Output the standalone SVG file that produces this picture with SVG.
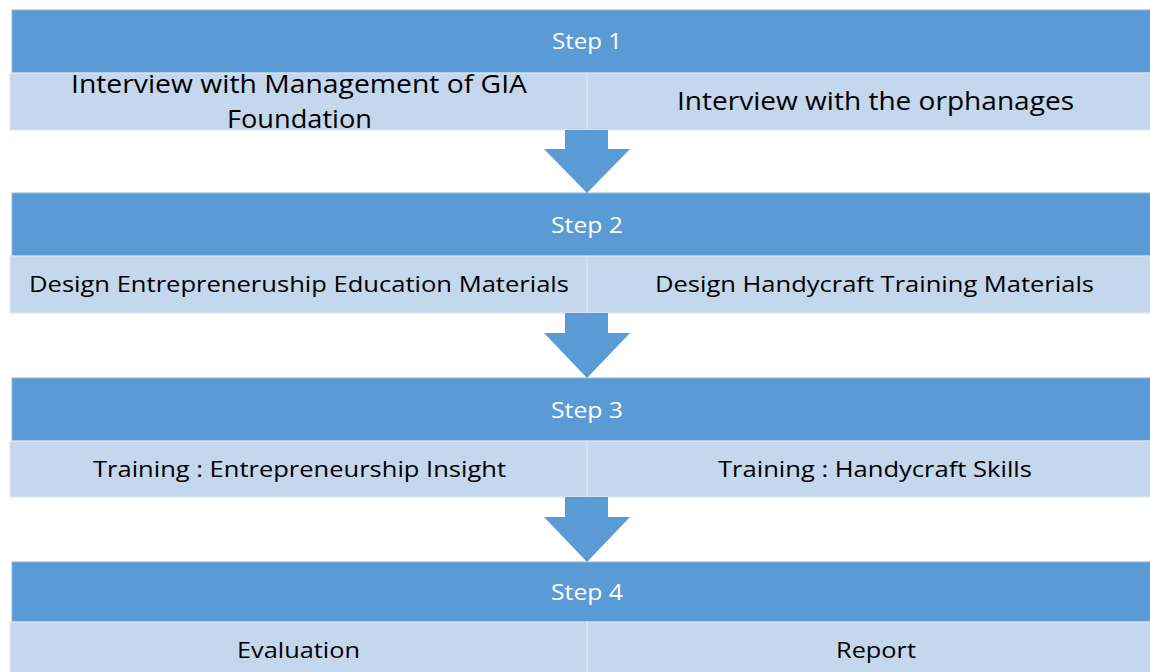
<svg xmlns="http://www.w3.org/2000/svg" width="1150" height="672" viewBox="0 0 1150 672">
<style>
.hdr{fill:#5B9BD5;stroke:#8DB6E2;stroke-width:1}
.cell{fill:#C5D7EC;stroke:#DCE6F3;stroke-width:1.2}
.arrow{fill:#5B9BD5}
.ht{font-family:"Open Sans","Liberation Sans",sans-serif;font-size:22px;fill:#FFFFFF;text-anchor:middle}
.ct{font-family:"Open Sans","Liberation Sans",sans-serif;font-size:22px;fill:#000000;text-anchor:middle}
.big{font-size:25.5px}
</style>
<rect width="1150" height="672" fill="#FFFFFF"/>
<g id="step1">
<rect class="hdr" x="12" y="10" width="1145" height="63"/>
<text class="ht" x="587" y="49" textLength="70" lengthAdjust="spacingAndGlyphs">Step 1</text>
</g>
<g id="step1-left">
<rect class="cell" x="10" y="73" width="577" height="57"/>
<text class="ct big" x="299" y="93" textLength="456" lengthAdjust="spacingAndGlyphs">Interview with Management of GIA</text>
<text class="ct big" x="299.5" y="128" textLength="145" lengthAdjust="spacingAndGlyphs">Foundation</text>
</g>
<g id="step1-right">
<rect class="cell" x="587" y="73" width="570" height="57"/>
<text class="ct big" x="875.5" y="110" textLength="397" lengthAdjust="spacingAndGlyphs">Interview with the orphanages</text>
</g>
<g id="step2">
<rect class="hdr" x="12" y="193" width="1145" height="63"/>
<text class="ht" x="587" y="233" textLength="72" lengthAdjust="spacingAndGlyphs">Step 2</text>
</g>
<g id="step2-left">
<rect class="cell" x="10" y="256" width="577" height="57"/>
<text class="ct" x="299" y="292" textLength="540" lengthAdjust="spacingAndGlyphs">Design Entrepreneruship Education Materials</text>
</g>
<g id="step2-right">
<rect class="cell" x="587" y="256" width="570" height="57"/>
<text class="ct" x="874.5" y="292" textLength="439" lengthAdjust="spacingAndGlyphs">Design Handycraft Training Materials</text>
</g>
<g id="step3">
<rect class="hdr" x="12" y="378" width="1145" height="63"/>
<text class="ht" x="587" y="418" textLength="72" lengthAdjust="spacingAndGlyphs">Step 3</text>
</g>
<g id="step3-left">
<rect class="cell" x="10" y="441" width="577" height="56"/>
<text class="ct" x="299.5" y="477" textLength="413" lengthAdjust="spacingAndGlyphs">Training : Entrepreneurship Insight</text>
</g>
<g id="step3-right">
<rect class="cell" x="587" y="441" width="570" height="56"/>
<text class="ct" x="875" y="477" textLength="314" lengthAdjust="spacingAndGlyphs">Training : Handycraft Skills</text>
</g>
<g id="step4">
<rect class="hdr" x="12" y="562" width="1145" height="60"/>
<text class="ht" x="587" y="600" textLength="72" lengthAdjust="spacingAndGlyphs">Step 4</text>
</g>
<g id="step4-left">
<rect class="cell" x="10" y="622" width="577" height="55"/>
<text class="ct" x="298.5" y="658" textLength="123" lengthAdjust="spacingAndGlyphs">Evaluation</text>
</g>
<g id="step4-right">
<rect class="cell" x="587" y="622" width="570" height="55"/>
<text class="ct" x="876" y="658" textLength="80" lengthAdjust="spacingAndGlyphs">Report</text>
</g>
<g id="connectors">
<polygon class="arrow" points="565,130 608,130 608,149 630,149 587,193 544,149 565,149"/>
<polygon class="arrow" points="565,313 608,313 608,333 630,333 587,378 544,333 565,333"/>
<polygon class="arrow" points="565,497 608,497 608,517 630,517 587,562 544,517 565,517"/>
</g>
</svg>
